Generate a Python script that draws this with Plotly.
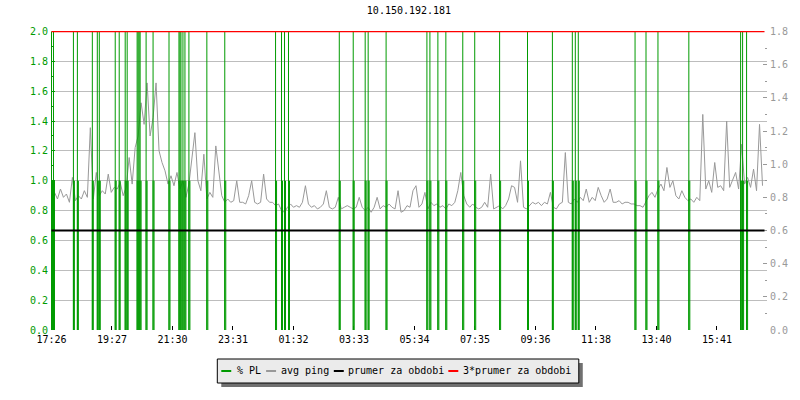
import plotly.graph_objects as go

# ---------------- data ----------------
title = "10.150.192.181"
x_labels = ["17:26", "19:27", "21:30", "23:31", "01:32", "03:33",
            "05:34", "07:35", "09:36", "11:38", "13:40", "15:41"]
label_every = 60.75          # samples between time labels
n_samples = 719              # samples across the time axis
ping_every = 3               # sample spacing of the ping readings

# avg ping (right, grey axis units)
ping = [
    0.81, 0.83, 0.79, 0.85, 0.80, 0.82, 0.77, 0.92, 0.78, 0.81,
    0.79, 0.84, 0.80, 1.22, 0.79, 0.95, 0.81, 0.84, 0.82, 0.94,
    0.83, 0.86, 0.85, 0.89, 0.81, 0.86, 1.04, 0.88, 1.10, 1.17,
    1.37, 1.24, 1.49, 1.17, 1.28, 1.49, 1.08, 1.01, 0.96, 0.88,
    0.93, 0.87, 0.95, 0.85, 0.90, 0.80, 0.88, 1.03, 1.19, 0.90,
    0.84, 1.06, 0.79, 0.83, 0.80, 1.11, 0.97, 0.81, 0.77, 0.79,
    0.77, 0.78, 0.90, 0.77, 0.77, 0.76, 0.81, 0.90, 0.77, 0.76,
    0.77, 0.94, 0.79, 0.77, 0.77, 0.75, 0.76, 0.72, 0.71, 0.74,
    0.76, 0.74, 0.75, 0.74, 0.77, 0.87, 0.76, 0.74, 0.75, 0.73,
    0.74, 0.76, 0.84, 0.74, 0.73, 0.74, 0.80, 0.73, 0.74, 0.75,
    0.74, 0.73, 0.74, 0.80, 0.74, 0.72, 0.74, 0.71, 0.74, 0.80,
    0.73, 0.75, 0.74, 0.76, 0.74, 0.73, 0.84, 0.71, 0.72, 0.75,
    0.74, 0.84, 0.87, 0.74, 0.76, 0.83, 0.73, 0.77, 0.75, 0.76,
    0.74, 0.75, 0.73, 0.76, 0.75, 0.77, 0.84, 0.95, 0.81, 0.76,
    0.74, 0.76, 0.74, 0.73, 0.74, 0.77, 0.74, 0.94, 0.73, 0.74,
    0.75, 0.73, 0.75, 0.79, 0.87, 0.86, 0.77, 1.02, 0.74, 0.73,
    0.75, 0.77, 0.76, 0.77, 0.75, 0.77, 0.76, 0.83, 0.74, 0.73,
    0.76, 0.77, 1.07, 0.77, 0.76, 0.79, 0.77, 0.80, 0.78, 0.85,
    0.77, 0.80, 0.78, 0.86, 0.81, 0.77, 0.79, 0.85, 0.77, 0.77,
    0.78, 0.76, 0.77, 0.77, 0.76, 0.76, 0.75, 0.75, 0.74, 0.78,
    0.81, 0.83, 0.80, 0.85, 0.88, 0.84, 0.98, 0.86, 0.90, 0.81,
    0.79, 0.84, 0.80, 0.78, 0.79, 0.77, 0.80, 0.78, 1.30, 0.85,
    0.90, 0.83, 1.01, 0.86, 0.87, 0.84, 1.26, 0.86, 0.90, 0.95,
    0.85, 1.12, 0.88, 0.92, 0.86, 0.97, 0.84, 1.24, 0.87,
]

# packet loss (left, green axis units, %): samples that run off the scale
pl_peak_x = [0, 2, 22, 26, 41, 46, 48, 64, 68, 74,
             76, 86, 87, 88, 89, 95, 102, 118, 128, 129,
             130, 132, 134, 138, 156, 174, 225, 231, 234, 238,
             289, 303, 315, 318, 336, 377, 380, 388, 396, 413,
             425, 450, 478, 503, 523, 526, 529, 586, 597, 609,
             640, 692, 694, 698]
pl_peak_y = [2.0, 2.0, 2.0, 2.0, 2.0, 2.0, 2.0, 2.0, 2.0, 2.0,
             2.0, 2.0, 2.0, 2.0, 2.0, 2.0, 2.0, 2.0, 2.0, 2.0,
             2.0, 2.0, 2.0, 2.0, 2.0, 2.0, 2.0, 2.0, 2.0, 2.0,
             2.0, 2.0, 2.0, 2.0, 2.0, 2.0, 2.0, 2.0, 2.0, 2.0,
             2.0, 2.0, 2.0, 2.0, 2.0, 2.0, 2.0, 2.0, 2.0, 2.0,
             2.0, 2.0, 2.0, 2.0]
# packet loss samples at 1 %
pl_one_x = [0, 1, 2, 3, 22, 23, 26, 27, 41, 42,
            46, 47, 48, 49, 64, 65, 68, 69, 74, 75,
            76, 77, 86, 87, 88, 89, 90, 95, 96, 102,
            103, 118, 119, 128, 129, 130, 131, 132, 133, 134,
            135, 138, 139, 156, 157, 174, 175, 225, 226, 231,
            232, 234, 235, 238, 239, 289, 290, 303, 304, 315,
            316, 318, 319, 336, 337, 377, 378, 380, 381, 388,
            389, 396, 397, 413, 414, 425, 426, 450, 451, 478,
            479, 503, 504, 523, 524, 526, 527, 529, 530, 586,
            587, 597, 598, 609, 610, 640, 641, 692, 693, 694,
            695, 698, 699]
pl_one_y = [1.0, 1.0, 1.0, 1.0, 1.0, 1.0, 1.0, 1.0, 1.0, 1.0,
            1.0, 1.0, 1.0, 1.0, 1.0, 1.0, 1.0, 1.0, 1.0, 1.0,
            1.0, 1.0, 1.0, 1.0, 1.0, 1.0, 1.0, 1.0, 1.0, 1.0,
            1.0, 1.0, 1.0, 1.0, 1.0, 1.0, 1.0, 1.0, 1.0, 1.0,
            1.0, 1.0, 1.0, 1.0, 1.0, 1.0, 1.0, 1.0, 1.0, 1.0,
            1.0, 1.0, 1.0, 1.0, 1.0, 1.0, 1.0, 1.0, 1.0, 1.0,
            1.0, 1.0, 1.0, 1.0, 1.0, 1.0, 1.0, 1.0, 1.0, 1.0,
            1.0, 1.0, 1.0, 1.0, 1.0, 1.0, 1.0, 1.0, 1.0, 1.0,
            1.0, 1.0, 1.0, 1.0, 1.0, 1.0, 1.0, 1.0, 1.0, 1.0,
            1.0, 1.0, 1.0, 1.0, 1.0, 1.0, 1.0, 1.0, 1.0, 1.0,
            1.0, 1.0, 1.0]

mean_ping = 0.6        # prumer za obdobi
mean3_ping = 1.8       # 3*prumer za obdobi
data_end = 716

# ---------------- style ----------------
GREEN = "#009a00"
GREY = "#999999"
GRID = "#bdbdbd"
FONT = "DejaVu Sans Mono"
L, R, T, B = 51, 30, 31, 70
W, H = 800, 400
PW, PH = W - L - R, H - T - B
TOP_PAD = 1 - 1 / (2 * PH)   # half a pixel of headroom above the scale


def px(xp):
    return (xp - L) / PW


def py(yp):
    return (H - B - yp) / PH


def spikes(xs, ys):
    """vertical drop lines from 0 to each value, separated by gaps"""
    sx, sy = [], []
    for x, y in zip(xs, ys):
        sx += [x, x, None]
        sy += [0, y, None]
    return sx, sy


ping_x = [i * ping_every for i in range(len(ping))]
one_sx, one_sy = spikes(pl_one_x, pl_one_y)
peak_sx, peak_sy = spikes(pl_peak_x, pl_peak_y)

fig = go.Figure()
fig.add_trace(go.Scatter(x=ping_x, y=ping, yaxis="y2", mode="lines",
                         line=dict(color=GREY, width=1),
                         name="avg ping", zorder=0))
fig.add_trace(go.Scatter(x=one_sx, y=one_sy, mode="lines",
                         line=dict(color=GREEN, width=1),
                         name="% PL", zorder=1))
fig.add_trace(go.Scatter(x=peak_sx, y=peak_sy, mode="lines",
                         line=dict(color=GREEN, width=1),
                         name="% PL", zorder=1))
fig.add_trace(go.Scatter(x=[0, data_end], y=[mean_ping, mean_ping], yaxis="y2",
                         mode="lines", line=dict(color="black", width=2),
                         name="prumer za obdobi", zorder=2))
fig.add_trace(go.Scatter(x=[0, data_end], y=[mean3_ping, mean3_ping], yaxis="y2",
                         mode="lines", line=dict(color="red", width=1.5),
                         name="3*prumer za obdobi", zorder=2))

tickvals = [k * label_every for k in range(len(x_labels))]

# manual legend box
shapes = [
    dict(type="rect", xref="paper", yref="paper", x0=px(222), x1=px(585),
         y0=py(387), y1=py(363), fillcolor="#707070", line=dict(width=0), layer="above"),
    dict(type="rect", xref="paper", yref="paper", x0=px(218), x1=px(581),
         y0=py(383), y1=py(359), fillcolor="#ebebeb",
         line=dict(color="black", width=1), layer="above"),
]
legend_items = [(222, 237, GREEN, "% PL"), (267, 281, GREY, "avg ping"),
                (335, 348, "black", "prumer za obdobi"),
                (450, 464, "red", "3*prumer za obdobi")]
annotations = []
for sx, tx, col, txt in legend_items:
    shapes.append(dict(type="line", xref="paper", yref="paper", x0=px(sx), x1=px(sx + 10),
                       y0=py(371), y1=py(371), line=dict(color=col, width=2), layer="above"))
    annotations.append(dict(xref="paper", yref="paper", x=px(tx - 1), y=py(370),
                            xanchor="left", yanchor="middle", showarrow=False,
                            text=txt, font=dict(family=FONT, size=10, color="black")))

fig.update_layout(
    width=W, height=H, margin=dict(l=L, r=R, t=T, b=B),
    plot_bgcolor="white", paper_bgcolor="white",
    showlegend=False,
    font=dict(family=FONT, size=10, color="black"),
    title=dict(text=title, x=0.5, xref="paper", xanchor="center",
               y=1 - 10.5 / H, yref="container", yanchor="middle",
               font=dict(family=FONT, size=10, color="black")),
    xaxis=dict(range=[-0.5, n_samples - 0.5], tickvals=tickvals, ticktext=x_labels,
               ticks="inside", ticklen=4, tickcolor="black", showline=True,
               linecolor="black", linewidth=1, showgrid=False, zeroline=False,
               tickfont=dict(family=FONT, size=10, color="black")),
    yaxis=dict(range=[0, 2.0 / TOP_PAD], tick0=0, dtick=0.2, tickformat=".1f",
               ticks="inside", ticklen=4, tickcolor=GREEN, showline=True,
               linecolor=GREEN, linewidth=1, gridcolor=GRID, zeroline=False,
               tickfont=dict(family=FONT, size=10, color=GREEN),
               minor=dict(dtick=0.1, ticks="inside", ticklen=2, tickcolor=GREEN,
                          showgrid=False)),
    yaxis2=dict(range=[0, 1.8 / TOP_PAD], tick0=0, dtick=0.2, tickformat=".1f",
                overlaying="y", side="right", anchor="x",
                ticks="inside", ticklen=4, tickcolor=GREY, showline=True,
                linecolor=GREY, linewidth=1, showgrid=False, zeroline=False,
                tickfont=dict(family=FONT, size=10, color=GREY),
                minor=dict(dtick=0.1, ticks="inside", ticklen=2, tickcolor=GREY,
                           showgrid=False)),
    shapes=shapes, annotations=annotations,
)

fig.write_html("out.html",
               config={"displayModeBar": False},
               post_script="document.body.style.margin='0';"
                           "document.body.style.padding='0';")
